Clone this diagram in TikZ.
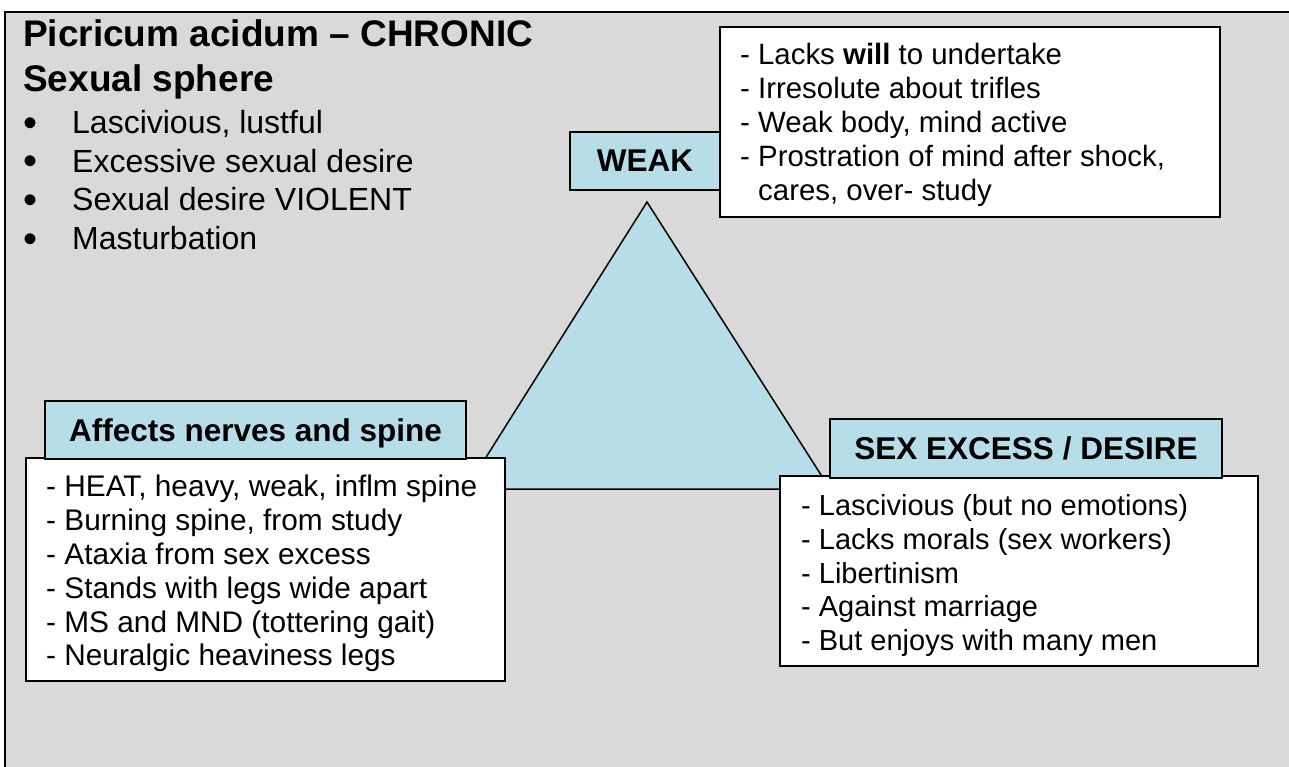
\documentclass[tikz,border=0pt]{standalone}
\usepackage{fontspec}
\setmainfont{Liberation Sans}
\definecolor{panelgray}{HTML}{D9D9D9}
\definecolor{paleblue}{HTML}{B7DDE8}
\newcommand{\dotmark}{\makebox[49pt][l]{\raisebox{-2.9pt}{\fontsize{40}{40}\selectfont •}}}
\tikzset{
  labelbox/.style={draw=black, line width=1.5pt, fill=paleblue, inner sep=0pt,
    text depth=0pt, font=\fontsize{31.5}{36}\selectfont\bfseries},
  listbox/.style={draw=black, line width=1.5pt, fill=white, inner sep=0pt},
  listtext/.style={anchor=north west, align=left, inner sep=0pt,
    font=\fontsize{29}{33.7}\selectfont}
}
\begin{document}
\begin{tikzpicture}[x=1pt,y=-1pt]
    \useasboundingbox (0,0) rectangle (1289,767);
    % panel
    \fill[panelgray] (5,12) rectangle (1289,767);
    \draw[line width=2pt] (5,767) -- (5,12) -- (1289,12);
    % heading and bullets
    \node[anchor=north west, align=left, inner sep=0pt,
          font=\fontsize{37}{45}\selectfont\bfseries] (heading) at (23,19.5)
          {Picricum acidum – CHRONIC\\Sexual sphere};
    \node[anchor=north west, align=left, inner sep=0pt,
          font=\fontsize{32}{38.7}\selectfont] (bullets) at (23,110)
          {\dotmark Lascivious, lustful\\
           \dotmark Excessive sexual desire\\
           \dotmark Sexual desire VIOLENT\\
           \dotmark Masturbation};
    % triangle
    \coordinate (apex) at (647,202);
    \coordinate (baseL) at (466,489);
    \coordinate (baseR) at (830,489);
    \draw[fill=paleblue, line width=1.5pt, line join=miter] (apex) -- (baseR) -- (baseL) -- cycle;
    % top corner
    \node[labelbox, minimum width=150pt, minimum height=58pt] (weak) at (645,161) {WEAK};
    \node[listbox, minimum width=500pt, minimum height=190pt] (weakbox) at (970,122) {};
    \node[listtext, font=\fontsize{29.4}{34}\selectfont] (weaklist) at (740,43)
          {- Lacks \textbf{will} to undertake\\
           - Irresolute about trifles\\
           - Weak body, mind active\\
           - Prostration of mind after shock,\\
           \hspace*{18pt}cares, over- study};
    % left corner
    \node[listbox, minimum width=479pt, minimum height=223pt] (spinebox) at (265.5,569.5) {};
    \node[labelbox, minimum width=421pt, minimum height=58pt] (spine) at (255.5,430) {Affects nerves and spine};
    \node[listtext, font=\fontsize{29.8}{33.8}\selectfont] (spinelist) at (46,475)
          {- HEAT, heavy, weak, inflm spine\\
           - Burning spine, from study\\
           - Ataxia from sex excess\\
           - Stands with legs wide apart\\
           - MS and MND (tottering gait)\\
           - Neuralgic heaviness legs};
    % right corner
    \node[listbox, minimum width=478pt, minimum height=190pt] (sexbox) at (1019,571) {};
    \node[labelbox, minimum width=392pt, minimum height=59pt] (sex) at (1026,448.5) {SEX EXCESS / DESIRE};
    \node[listtext] (sexlist) at (801,494.5)
          {- Lascivious (but no emotions)\\
           - Lacks morals (sex workers)\\
           - Libertinism\\
           - Against marriage\\
           - But enjoys with many men};
\end{tikzpicture}
\end{document}
